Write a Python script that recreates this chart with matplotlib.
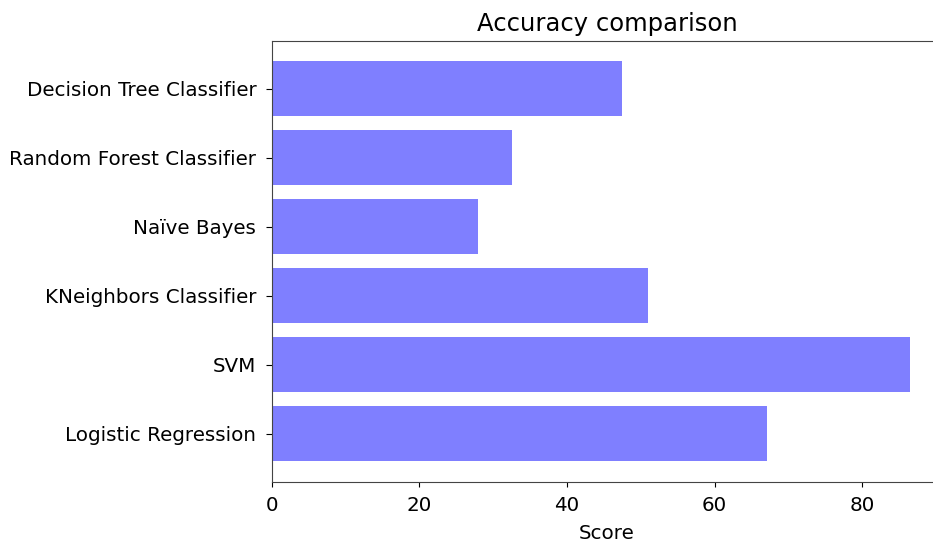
import matplotlib
matplotlib.use("Agg")
import matplotlib.pyplot as plt
import numpy as np

models = ["Logistic Regression", "SVM", "KNeighbors Classifier",
          "Naïve Bayes", "Random Forest Classifier", "Decision Tree Classifier"]
scores = [67.1, 86.5, 51.0, 27.9, 32.5, 47.5]

plt.rcParams.update({'font.size': 14.3})
fig = plt.figure(figsize=(9.33, 5.45), dpi=100)
# the reference is cut on the right, so the axes run past the canvas edge
ax = fig.add_axes([0.2915, 0.1165, 0.718, 0.8083])

y_pos = np.arange(len(models))
ax.barh(y_pos, scores, align="center", color="blue", alpha=0.5)
ax.set_yticks(y_pos)
ax.set_yticklabels(models)
ax.set_xlabel("Score", labelpad=6)
ax.set_title("Accuracy comparison", fontsize=17.5, pad=7)

ax.tick_params(axis="y", length=4.3, pad=7)
ax.tick_params(axis="x", length=3.6, pad=7)
for s in ax.spines.values():
    s.set_color("#444444")

fig.savefig("out.png", dpi=100)
